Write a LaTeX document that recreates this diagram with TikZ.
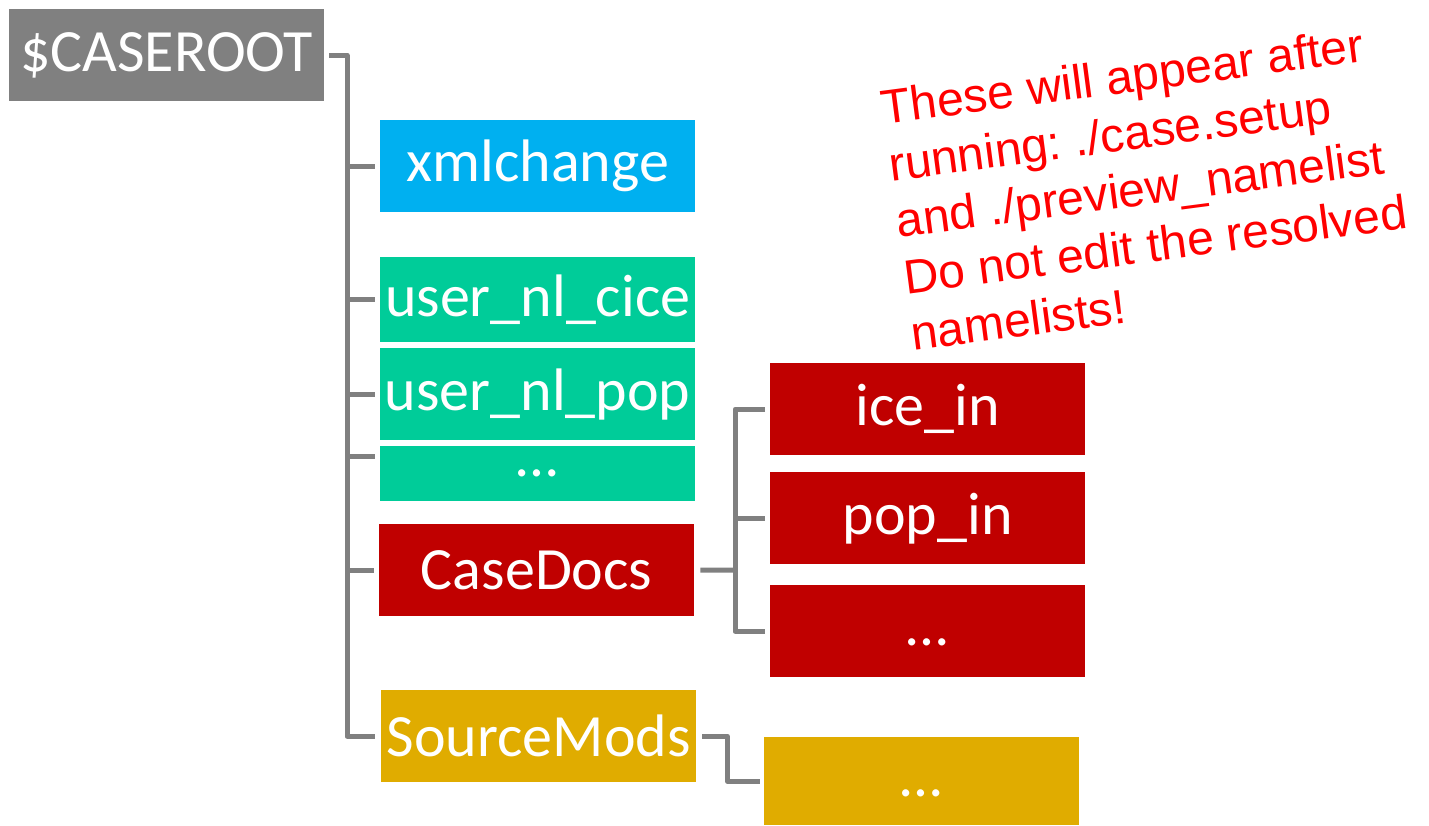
\documentclass[tikz,border=0pt]{standalone}
\usepackage{fontspec}
\setmainfont{Carlito}
\newfontfamily\notefont{Liberation Sans}
\usetikzlibrary{calc}
\definecolor{rootgray}{HTML}{808080}
\definecolor{linegray}{HTML}{808080}
\definecolor{xmlblue}{HTML}{00B0F0}
\definecolor{nlgreen}{HTML}{00CC99}
\definecolor{docred}{HTML}{C00000}
\definecolor{srcgold}{HTML}{E0AC00}
\frenchspacing

\begin{document}
\begin{tikzpicture}[x=1pt, y=-1pt,
  box/.style={anchor=north west, inner sep=0pt, minimum width=315pt, minimum height=92pt, text=white, font=\fontsize{60}{72}\selectfont},
  branch/.style={draw=linegray, line width=5pt, line join=round},
  note/.style={anchor=north west, rotate=7.5, align=left, inner sep=0pt, text=red, font=\notefont\fontsize{48}{57}\selectfont}]
\useasboundingbox (0,0) rectangle (1429,825);
\node[box, fill=rootgray] (root) at (9,9) {\$CASEROOT};
\node[box, fill=xmlblue] (xml) at (380,120) {xmlchange};
\node[box, fill=nlgreen, minimum height=85pt] (cice) at (380,257) {user\_nl\_cice};
\node[box, fill=nlgreen, minimum height=55pt] (nldots) at (380,446) {…};
\node[box, fill=nlgreen] (pop) at (380,348) {user\_nl\_pop};
\node[box, fill=docred] (docs) at (379,524) {CaseDocs};
\node[box, fill=srcgold] (srcmods) at (381,690) {SourceMods};
\node[box, fill=docred] (icein) at (770,363) {ice\_in};
\node[box, fill=docred] (popin) at (770,472) {pop\_in};
\node[box, fill=docred] (docdots) at (770,585) {\raisebox{-11pt}[\height][\depth]{…}};
\node[box, fill=srcgold, minimum height=88pt] (srcdots) at (764,737) {\raisebox{-12pt}[\height][\depth]{…}};
% tree lines
\coordinate (trunk) at (347,55);
\coordinate (nlhook) at ([yshift=-10pt]nldots.north west);
\coordinate (hub) at (735,570);
\draw[branch, shorten <=5pt, shorten >=6pt] (root.east) -| (trunk |- srcmods.west) -- (srcmods.west);
\foreach \n in {xml,cice,pop,nlhook,docs}
  \draw[branch, shorten >=5pt] (trunk |- \n.west) -- (\n.west);
\draw[branch, shorten <=6pt] (docs.east) -- (hub);
\draw[branch, shorten <=5pt, shorten >=5pt] (icein.west) -| (hub) |- (docdots.west);
\draw[branch, shorten >=5pt] (hub |- popin.west) -- (popin.west);
\draw[branch, shorten <=6pt, shorten >=4pt] (srcmods.east) -- ++(31,0) |- (srcdots.west);
%\draw[branch] (srcmods.east) -- (srcdots.west);
\node[note] (note) at (879,90) {These will appear after\\running: ./case.setup\\and ./preview\_namelist\\Do not edit the resolved\\namelists!};
\end{tikzpicture}
\end{document}
